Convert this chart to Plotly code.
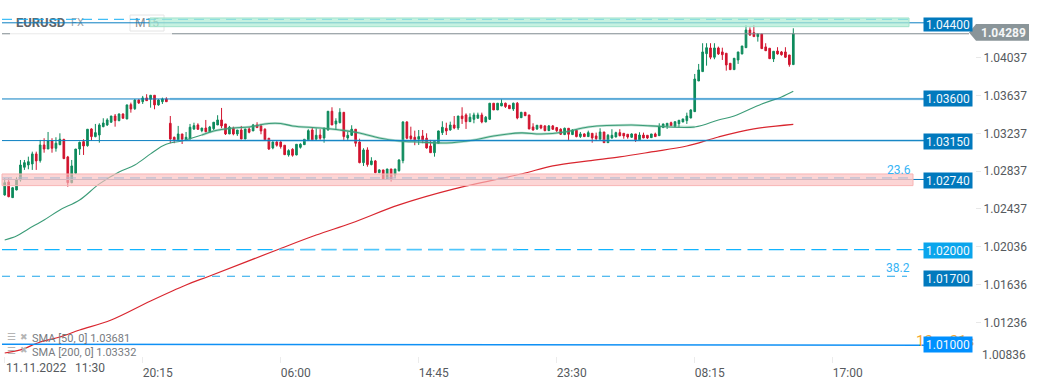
import plotly.graph_objects as go

opens = [1.02585,1.02723,1.02557,1.02638,1.02744,1.02878,1.02902,1.02913,1.03019,1.02948,
1.03114,1.03071,1.03156,1.03079,1.03117,1.03174,1.02987,1.02715,1.02815,1.03071,
1.03149,1.03106,1.03283,1.03202,1.03219,1.03307,1.03325,1.03354,1.03420,1.03371,
1.03441,1.03389,1.03540,1.03497,1.03589,1.03571,1.03611,1.03597,1.03639,1.03537,
1.03571,1.03600,1.03343,1.03195,1.03167,1.03230,1.03167,1.03177,1.03283,1.03325,
1.03265,1.03293,1.03254,1.03286,1.03325,1.03378,1.03336,1.03230,1.03290,1.03230,
1.03272,1.03177,1.03283,1.03262,1.03325,1.03315,1.03280,1.03185,1.03082,1.03145,
1.03145,1.03111,1.03008,1.03068,1.03008,1.03089,1.03117,1.03167,1.03272,1.03174,
1.03219,1.03188,1.03272,1.03470,1.03336,1.03349,1.03459,1.03188,1.03216,1.03280,
1.03145,1.02927,1.03061,1.02906,1.02945,1.02821,1.02850,1.02754,1.02860,1.02797,
1.02842,1.02948,1.03357,1.03209,1.03195,1.03174,1.03209,1.03185,1.03103,1.03032,
1.03132,1.03244,1.03290,1.03272,1.03325,1.03293,1.03420,1.03431,1.03360,1.03385,
1.03396,1.03431,1.03357,1.03385,1.03555,1.03484,1.03526,1.03555,1.03533,1.03494,
1.03555,1.03402,1.03459,1.03431,1.03304,1.03283,1.03322,1.03315,1.03265,1.03315,
1.03297,1.03280,1.03223,1.03290,1.03223,1.03269,1.03202,1.03230,1.03202,1.03237,
1.03209,1.03174,1.03251,1.03138,1.03188,1.03198,1.03244,1.03237,1.03227,1.03195,
1.03230,1.03167,1.03219,1.03216,1.03191,1.03230,1.03212,1.03297,1.03315,1.03349,
1.03311,1.03339,1.03357,1.03371,1.03399,1.03466,1.03790,1.03889,1.04079,1.04139,
1.04041,1.04139,1.04097,1.04083,1.03977,1.03910,1.04012,1.04076,1.04142,1.04329,
1.04301,1.04259,1.04287,1.04150,1.04136,1.04023,1.04107,1.04097,1.04097,1.04065,
1.03963]

closes = [1.02715,1.02567,1.02662,1.02751,1.02902,1.02927,1.02937,1.03019,1.02945,1.03114,
1.03071,1.03156,1.03079,1.03132,1.03174,1.02969,1.02715,1.02892,1.03071,1.03142,
1.03103,1.03280,1.03202,1.03244,1.03325,1.03346,1.03378,1.03420,1.03371,1.03441,
1.03396,1.03537,1.03494,1.03589,1.03558,1.03611,1.03582,1.03639,1.03537,1.03589,
1.03600,1.03571,1.03177,1.03167,1.03230,1.03174,1.03195,1.03301,1.03318,1.03280,
1.03293,1.03254,1.03304,1.03354,1.03378,1.03315,1.03230,1.03301,1.03230,1.03272,
1.03177,1.03283,1.03248,1.03325,1.03297,1.03262,1.03167,1.03071,1.03145,1.03111,
1.03096,1.03011,1.03054,1.03005,1.03121,1.03121,1.03174,1.03265,1.03167,1.03216,
1.03185,1.03290,1.03470,1.03325,1.03367,1.03459,1.03202,1.03216,1.03280,1.03132,
1.02927,1.03061,1.02906,1.02945,1.02821,1.02850,1.02754,1.02860,1.02754,1.02860,
1.02955,1.03357,1.03185,1.03180,1.03167,1.03202,1.03167,1.03082,1.03032,1.03153,
1.03262,1.03301,1.03262,1.03325,1.03293,1.03420,1.03392,1.03360,1.03407,1.03431,
1.03431,1.03357,1.03407,1.03555,1.03484,1.03555,1.03555,1.03519,1.03497,1.03555,
1.03399,1.03459,1.03423,1.03283,1.03272,1.03322,1.03293,1.03265,1.03315,1.03280,
1.03265,1.03227,1.03290,1.03227,1.03272,1.03202,1.03230,1.03202,1.03244,1.03188,
1.03180,1.03251,1.03138,1.03216,1.03216,1.03244,1.03212,1.03209,1.03198,1.03230,
1.03167,1.03219,1.03188,1.03188,1.03230,1.03202,1.03307,1.03336,1.03343,1.03318,
1.03360,1.03375,1.03389,1.03420,1.03484,1.03811,1.03907,1.04097,1.04142,1.04041,
1.04139,1.04076,1.04068,1.03959,1.03910,1.04030,1.04097,1.04160,1.04329,1.04276,
1.04259,1.04287,1.04132,1.04110,1.04026,1.04104,1.04076,1.04068,1.04041,1.03963,
1.04289]

highs = [1.02762,1.02762,1.02670,1.02772,1.02955,1.02955,1.02990,1.03043,1.03043,1.03167,
1.03185,1.03251,1.03185,1.03195,1.03237,1.03174,1.02998,1.02955,1.03071,1.03149,
1.03174,1.03280,1.03290,1.03336,1.03343,1.03396,1.03396,1.03420,1.03441,1.03448,
1.03448,1.03540,1.03561,1.03597,1.03597,1.03632,1.03650,1.03642,1.03639,1.03597,
1.03614,1.03618,1.03420,1.03202,1.03315,1.03230,1.03251,1.03336,1.03349,1.03343,
1.03293,1.03378,1.03315,1.03354,1.03428,1.03505,1.03336,1.03315,1.03307,1.03272,
1.03315,1.03283,1.03301,1.03336,1.03354,1.03336,1.03290,1.03185,1.03153,1.03159,
1.03159,1.03111,1.03068,1.03079,1.03121,1.03132,1.03174,1.03280,1.03297,1.03290,
1.03280,1.03297,1.03470,1.03512,1.03396,1.03502,1.03459,1.03254,1.03322,1.03280,
1.03180,1.03079,1.03089,1.02984,1.02955,1.02857,1.02850,1.02860,1.02860,1.02860,
1.02963,1.03364,1.03364,1.03307,1.03265,1.03272,1.03272,1.03237,1.03167,1.03159,
1.03265,1.03364,1.03349,1.03360,1.03420,1.03420,1.03512,1.03448,1.03448,1.03455,
1.03455,1.03455,1.03420,1.03555,1.03555,1.03555,1.03597,1.03561,1.03537,1.03561,
1.03568,1.03463,1.03463,1.03431,1.03343,1.03325,1.03325,1.03322,1.03325,1.03325,
1.03304,1.03290,1.03297,1.03290,1.03280,1.03272,1.03251,1.03237,1.03265,1.03237,
1.03244,1.03290,1.03251,1.03230,1.03280,1.03254,1.03280,1.03237,1.03227,1.03237,
1.03230,1.03248,1.03244,1.03216,1.03230,1.03244,1.03343,1.03336,1.03343,1.03360,
1.03360,1.03375,1.03389,1.03455,1.03491,1.03864,1.03970,1.04189,1.04189,1.04189,
1.04189,1.04153,1.04142,1.04083,1.03977,1.04033,1.04097,1.04160,1.04379,1.04357,
1.04379,1.04294,1.04287,1.04189,1.04136,1.04104,1.04147,1.04107,1.04147,1.04065,
1.04347]

lows = [1.02578,1.02561,1.02554,1.02635,1.02726,1.02850,1.02857,1.02850,1.02850,1.02927,
1.03032,1.03071,1.03032,1.03043,1.03111,1.02969,1.02673,1.02709,1.02807,1.03008,
1.03008,1.03096,1.03159,1.03195,1.03138,1.03301,1.03315,1.03349,1.03307,1.03364,
1.03392,1.03385,1.03455,1.03484,1.03547,1.03547,1.03582,1.03508,1.03491,1.03529,
1.03547,1.03571,1.03132,1.03132,1.03159,1.03124,1.03159,1.03170,1.03272,1.03272,
1.03248,1.03248,1.03248,1.03272,1.03325,1.03290,1.03219,1.03230,1.03216,1.03209,
1.03174,1.03174,1.03237,1.03262,1.03297,1.03227,1.03167,1.03061,1.03068,1.03096,
1.03075,1.03008,1.02990,1.02990,1.03005,1.03075,1.03114,1.03159,1.03159,1.03159,
1.03167,1.03138,1.03265,1.03325,1.03272,1.03343,1.03159,1.03159,1.03209,1.03096,
1.02920,1.02892,1.02884,1.02899,1.02815,1.02815,1.02754,1.02754,1.02726,1.02765,
1.02832,1.02920,1.03174,1.03167,1.03111,1.03114,1.03132,1.03075,1.03032,1.02990,
1.03132,1.03219,1.03219,1.03265,1.03280,1.03272,1.03336,1.03283,1.03360,1.03343,
1.03396,1.03343,1.03354,1.03378,1.03484,1.03484,1.03526,1.03505,1.03497,1.03473,
1.03385,1.03402,1.03420,1.03280,1.03265,1.03272,1.03280,1.03259,1.03262,1.03272,
1.03251,1.03219,1.03219,1.03159,1.03219,1.03195,1.03188,1.03198,1.03198,1.03138,
1.03156,1.03170,1.03138,1.03135,1.03180,1.03195,1.03205,1.03180,1.03180,1.03188,
1.03145,1.03163,1.03185,1.03177,1.03188,1.03198,1.03209,1.03293,1.03283,1.03315,
1.03301,1.03297,1.03354,1.03336,1.03396,1.03466,1.03790,1.03889,1.03952,1.04020,
1.04020,1.04065,1.04012,1.03899,1.03910,1.03910,1.03970,1.04072,1.04142,1.04266,
1.04259,1.04206,1.04132,1.04107,1.04023,1.03991,1.04068,1.04058,1.04033,1.03941,
1.03963]

sma50_bars = [0,3,6,10,14,19,24,29,33,37,40,42,45,50,53,58,62,67,70,73,80,85,90,95,100,105,112,119,124,131,136,142,148,159,164,175,181,185,192,197,200]
sma50 = [1.02110,1.02152,1.02226,1.02321,1.02427,1.02532,1.02702,1.02828,1.02902,1.03019,1.03103,1.03135,1.03156,1.03219,1.03262,1.03293,1.03304,1.03341,1.03341,1.03315,1.03293,1.03272,1.03241,1.03188,1.03156,1.03145,1.03135,1.03167,1.03209,1.03241,1.03230,1.03251,1.03304,1.03325,1.03315,1.03304,1.03378,1.03420,1.03547,1.03621,1.03681]

sma200_bars = [0,4,9,14,19,27,37,46,52,69,79,88,100,114,131,139,148,156,164,173,181,190,200]
sma200 = [1.00915,1.00947,1.01031,1.01084,1.01158,1.01264,1.01465,1.01634,1.01729,1.02004,1.02162,1.02289,1.02480,1.02649,1.02807,1.02892,1.02945,1.02987,1.03040,1.03103,1.03198,1.03283,1.03332]

axis_ticks = [1.04037, 1.03637, 1.03237, 1.02837, 1.02437, 1.02036, 1.01636, 1.01236]
axis_tick_labels = ["1.04037", "1.03637", "1.03237", "1.02837", "1.02437", "1.02036", "1.01636", "1.01236"]
time_ticks = [0, 35, 70, 105, 140, 175, 210]
time_labels = ["", "20:15", "06:00", "14:45", "23:30", "08:15", "17:00"]

current_price = 1.04289
level_tags = ["1.04400", "1.03600", "1.03150", "1.02740", "1.02000", "1.01700", "1.01000"]
level_tag_prices = [1.04400, 1.03600, 1.03150, 1.02740, 1.02000, 1.01700, 1.01000]
level_tag_colors = ["#0179bd", "#0179bd", "#0179bd", "#0179bd", "#0aa5ec", "#0179bd", "#0090ff"]

FW, FH = 1041, 385
PW, PH = 975, 356
Y_TOP, Y_BOT = 1.04646, 1.00883
X0, X1 = -1.19, 246.08


def px(x):
    return x / PW


def py(y):
    return (PH - y) / PH


def bar(x):
    return X0 + (X1 - X0) * x / PW


def price(y):
    return Y_TOP + (Y_BOT - Y_TOP) * y / PH


fig = go.Figure()
sel = [i for i, b in enumerate(sma50_bars) if 50 <= b <= 175]
fig.add_trace(go.Candlestick(
    x=list(range(len(opens))), open=opens, high=highs, low=lows, close=closes,
    increasing=dict(line=dict(color="#0d8a5c", width=1), fillcolor="#0d8a5c"),
    decreasing=dict(line=dict(color="#d1142e", width=1), fillcolor="#d1142e"),
    whiskerwidth=0, hoverinfo="skip"))
fig.add_trace(go.Scatter(x=[sma50_bars[i] for i in sel], y=[sma50[i] for i in sel], mode="lines",
                         line=dict(color="rgba(80,175,135,0.4)", width=2.5, shape="spline"), hoverinfo="skip"))
fig.add_trace(go.Scatter(x=sma50_bars, y=sma50, mode="lines",
                         line=dict(color="#3c9c78", width=1.1, shape="spline"), hoverinfo="skip"))
fig.add_trace(go.Scatter(x=sma200_bars, y=sma200, mode="lines",
                         line=dict(color="#d9262f", width=1.2, shape="spline"), hoverinfo="skip"))
# header text sits below the overlay shapes
fig.add_trace(go.Scatter(
    x=[bar(40.5), bar(77.5), bar(147)], y=[price(23.5)] * 3, mode="text",
    text=["<b>EURUSD</b>", "FX", "M15"],
    textfont=dict(family="Roboto", size=[13, 11, 12], color=["#5f6468", "#9aa3a8", "#8a8f93"]),
    hoverinfo="skip"))

BLUE = "#0a7fc2"


def hline(x0, x1, y0, y1=None, color=BLUE, width=1, dash="solid"):
    return dict(type="line", xref="paper", yref="y", x0=px(x0), x1=px(x1), y0=y0,
                y1=y0 if y1 is None else y1, layer="above",
                line=dict(color=color, width=width, dash=dash))


shapes = [
    dict(type="rect", xref="paper", yref="paper", x0=px(130), x1=px(164), y0=py(31), y1=py(15),
         line=dict(color="#e4e4e4", width=1), fillcolor="rgba(255,255,255,0)", layer="below"),
    hline(2, 10, current_price, color="#7f8a90"),
    hline(10, 172, current_price, color="#e9e9e9"),
    hline(172, 969, current_price, color="#7f8a90"),
    hline(2, 925, 1.04405),
    hline(2, 909, 1.04442, color="#12aef5", width=1, dash="10px,6px"),
    hline(170, 925, 1.03600, color="rgba(90,170,220,0.4)", width=2.5),
    hline(2, 925, 1.03600),
    hline(170, 925, 1.03160, color="rgba(90,170,220,0.4)", width=2.5),
    hline(2, 925, 1.03160),
    hline(2, 925, 1.02749, color="#8fa8c0"),
    hline(2, 913, 1.02765, color="#12aef5", dash="10px,6px"),
    hline(913, 925, 1.02749),
    hline(2, 925, 1.02008, color="#12b4ff", width=1.3, dash="15px,6.3px"),
    hline(279, 517, 1.02008, color="rgba(120,210,250,0.6)", width=2, dash="15px,6.3px"),
    hline(2, 907, 1.01726, color="#1ea5ea", width=1, dash="8px,7px"),
    hline(2, 925, 1.01007, 1.00997, color="#0f90f5", width=1.4),
    dict(type="rect", xref="paper", yref="y", x0=px(150), x1=px(909), y0=1.04456, y1=1.04364,
         fillcolor="rgba(172,235,211,0.7)", line=dict(color="#9fe3ca", width=1), layer="above"),
    dict(type="rect", xref="paper", yref="y", x0=px(2), x1=px(913), y0=1.02807, y1=1.02684,
         fillcolor="rgba(250,190,190,0.65)", line=dict(color="#f8b4b4", width=1), layer="above"),
    dict(type="path", xref="paper", yref="paper", layer="above",
         path=f"M {px(969)} {py(32.5)} L {px(976)} {py(24)} L {px(1029)} {py(24)} "
              f"L {px(1029)} {py(40.7)} L {px(976)} {py(40.7)} Z",
         fillcolor="#8a9599", line=dict(width=0)),
]

TF = dict(family="Roboto", size=12, color="#565a5e")
ann = []


def text(x, y, s, anchor="left", size=12, color="#565a5e"):
    ann.append(dict(xref="paper", yref="paper", x=px(x), y=py(y), text=s, showarrow=False,
                    xanchor=anchor, yanchor="middle", borderpad=0, xshift=0,
                    font=dict(family="Roboto", size=size, color=color)))


text(915, 340.5, "13m 21s", size=15, color="#f6a730")
for label, value, col in zip(level_tags, level_tag_prices, level_tag_colors):
    ann.append(dict(xref="paper", yref="y", x=px(973), y=value, text=label, showarrow=False,
                    xanchor="right", yanchor="middle", width=48, height=13 if label == "1.04400" else 15,
                    bgcolor=col, borderpad=0, yshift=-1 if label == "1.04400" else 0, align="center",
                    font=dict(family="Roboto", size=12, color="#f2f8fc")))
text(1003, 32.5, "<b>1.04289</b>", anchor="center", size=12, color="#f4f6f6")
text(981, 354.7, "1.00836")
text(899, 169.5, "23.6", anchor="center", color="#36b4f5")
text(898, 267.5, "38.2", anchor="center", color="#36b4f5")
text(6, 336.5, "☰", size=10, color="#b5b5b5")
text(19, 336.5, "✖", size=9, color="#b5b5b5")
text(6, 350, "☰", size=10, color="#b5b5b5")
text(19, 350, "✖", size=9, color="#b5b5b5")
text(31, 338.5, "SMA [50, 0] 1.03681", size=11, color="#777b7f")
text(31, 352, "SMA [200, 0] 1.03332", size=11, color="#777b7f")
text(5, 367.5, "11.11.2022")
text(74, 367.5, "11:30")

fig.update_layout(
    width=FW, height=FH, margin=dict(l=0, r=FW - PW, t=0, b=FH - PH, pad=0),
    paper_bgcolor="white", plot_bgcolor="white", showlegend=False, boxgap=0.4,
    shapes=shapes, annotations=ann, hovermode=False,
    xaxis=dict(range=[X0, X1], rangeslider=dict(visible=False), showgrid=False, zeroline=False,
               showline=False, tickmode="array", tickvals=time_ticks, ticktext=time_labels,
               ticks="outside", ticklen=6, tickcolor="#ececec", tickwidth=1,
               ticklabelshift=15, tickfont=TF),
    yaxis=dict(range=[Y_BOT, Y_TOP], side="right", showgrid=False, zeroline=False, showline=False,
               tickmode="array", tickvals=axis_ticks, ticktext=axis_tick_labels,
               ticks="outside", ticklen=5, tickcolor="#e8e8e8", tickwidth=1, tickfont=TF),
)

fig.write_html("out.html", config=dict(displayModeBar=False),
               post_script="document.body.style.margin='0';document.documentElement.style.overflow='hidden';")
